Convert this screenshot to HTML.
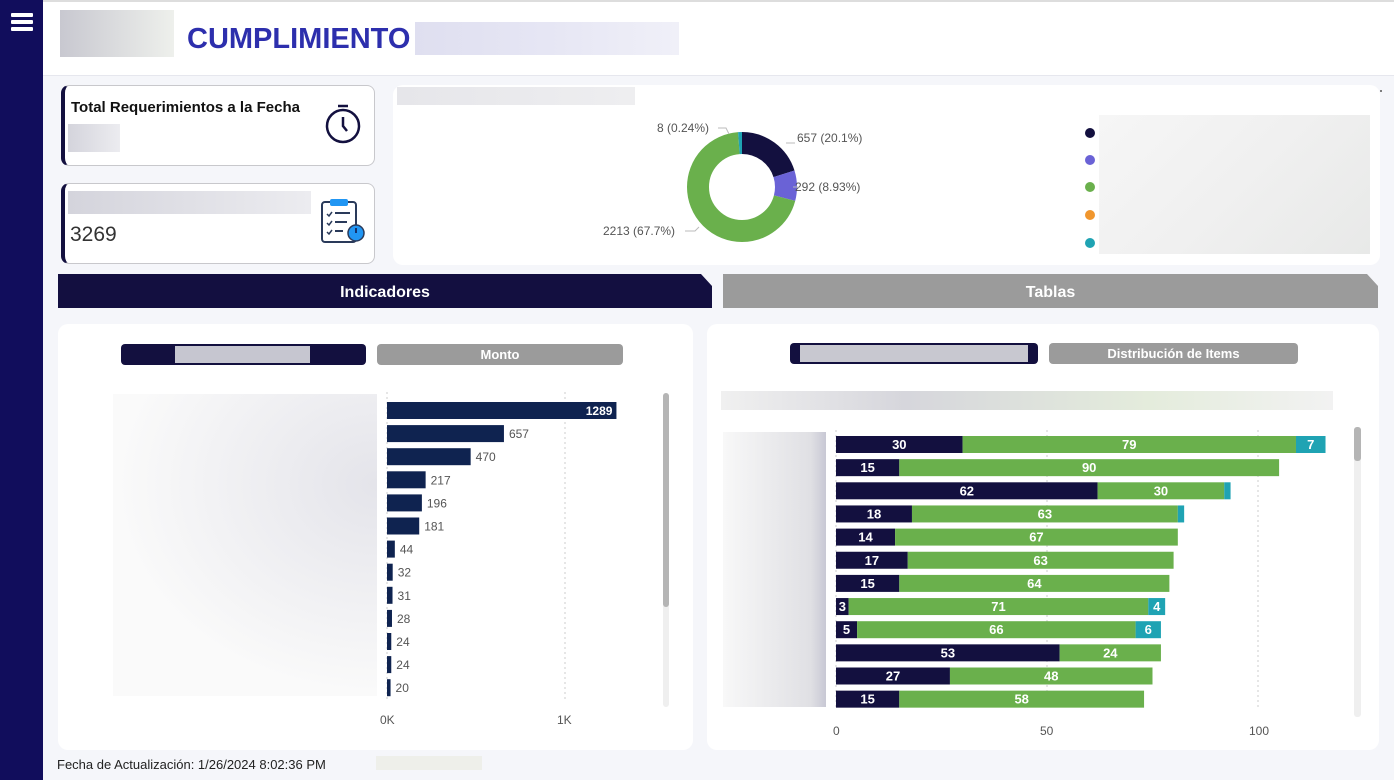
<!DOCTYPE html>
<html><head><meta charset="utf-8"><style>
*{margin:0;padding:0;box-sizing:border-box}
body{width:1394px;height:780px;overflow:hidden;background:#f5f6fa;font-family:"Liberation Sans",sans-serif;position:relative}
.a{position:absolute}
.side{left:0;top:0;width:43px;height:780px;background:#110d5c}
.hb{left:11px;width:22px;height:4px;background:#fff;border-radius:1px}
.hdr{left:43px;top:0;width:1351px;height:76px;background:#fff;border-bottom:1px solid #e6e7ee;border-top:2px solid #ddd}
.blur{background:linear-gradient(90deg,#d4d4dc,#ececf0)}
.card{background:#fff;border:1px solid #c8c8cc;border-left:4px solid #13103f;border-radius:8px}
.panel{background:#fff;border-radius:10px}
.btn{border-radius:4px;color:#fff;font-weight:bold;font-size:13px;text-align:center;line-height:21px}
</style></head><body>
<div class="a side"></div>
<div class="a hb" style="top:13px"></div><div class="a hb" style="top:20px"></div><div class="a hb" style="top:27px"></div>
<div class="a hdr"></div>
<div class="a blur" style="left:60px;top:10px;width:114px;height:47px;background:linear-gradient(90deg,#c8c8d0,#eef0ec)"></div>
<div class="a" style="left:187px;top:23px;font-size:29px;font-weight:bold;color:#2d2fad">CUMPLIMIENTO</div>
<div class="a" style="left:415px;top:22px;width:264px;height:33px;background:linear-gradient(90deg,#dfdff0,#e6e6f4,#f0f0f8)"></div>

<div class="a card" style="left:61px;top:85px;width:314px;height:81px"></div>
<div class="a" style="left:71px;top:99px;font-size:15px;font-weight:bold;color:#111">Total Requerimientos a la Fecha</div>
<div class="a blur" style="left:68px;top:124px;width:52px;height:28px"></div>
<div class="a card" style="left:61px;top:183px;width:314px;height:81px"></div>
<div class="a blur" style="left:68px;top:191px;width:243px;height:23px"></div>
<div class="a" style="left:70px;top:223px;font-size:21px;color:#333">3269</div>

<div class="a panel" style="left:393px;top:85px;width:987px;height:180px"></div>
<div class="a blur" style="left:397px;top:87px;width:238px;height:18px;background:linear-gradient(90deg,#e6e6ea,#eeeef0)"></div>
<div class="a" style="left:1099px;top:115px;width:271px;height:139px;background:linear-gradient(135deg,#f6f6f6,#f0f0f0,#e8e9e8)"></div>

<div class="a" style="left:58px;top:274px;width:654px;height:34px;background:#130f40;clip-path:polygon(0 0,643px 0,654px 12px,654px 100%,0 100%);color:#fff;font-weight:bold;font-size:16px;text-align:center;line-height:38px">Indicadores</div>
<div class="a" style="left:723px;top:274px;width:655px;height:34px;background:#9b9b9b;clip-path:polygon(0 0,644px 0,655px 12px,655px 100%,0 100%);color:#fff;font-weight:bold;font-size:16px;text-align:center;line-height:38px">Tablas</div>

<div class="a panel" style="left:58px;top:324px;width:635px;height:426px"></div>
<div class="a panel" style="left:707px;top:324px;width:672px;height:426px"></div>
<div class="a btn" style="left:121px;top:344px;width:245px;height:21px;background:#13103f"></div>
<div class="a" style="left:175px;top:346px;width:135px;height:17px;background:#c6c6d0"></div>
<div class="a btn" style="left:377px;top:344px;width:246px;height:21px;background:#9b9b9b">Monto</div>
<div class="a btn" style="left:790px;top:343px;width:248px;height:21px;background:#13103f"></div>
<div class="a" style="left:800px;top:345px;width:228px;height:17px;background:#c8c8d0"></div>
<div class="a btn" style="left:1049px;top:343px;width:249px;height:21px;background:#9b9b9b">Distribución de Items</div>
<div class="a" style="left:721px;top:391px;width:612px;height:19px;background:linear-gradient(90deg,#f0f0f0,#d6d6dc 30%,#e4ecdc 70%,#f2f2f2)"></div>
<div class="a" style="left:113px;top:394px;width:264px;height:302px;background:radial-gradient(ellipse at 100% 30%,#e4e4ea,#fafafa 70%)"></div>
<div class="a" style="left:723px;top:432px;width:103px;height:275px;background:linear-gradient(90deg,#f8f8f8,#e0e0e4 85%,#c8c8d4)"></div>
<div class="a" style="left:376px;top:756px;width:106px;height:14px;background:#eeefea"></div>
<div class="a" style="left:57px;top:757px;font-size:13px;color:#222">Fecha de Actualización: 1/26/2024 8:02:36 PM</div>

<svg class="a" style="left:0;top:0" width="1394" height="780" font-family="Liberation Sans, sans-serif">
<g stroke="#13103f" stroke-width="2.5" fill="none"><circle cx="343" cy="126" r="16"/><path d="M343 117v9l4 5"/><path d="M338 106h10"/></g>
<g><rect x="322" y="202" width="34" height="40" rx="3" fill="#fff" stroke="#2a3a5a" stroke-width="2"/><rect x="330" y="199" width="18" height="7" rx="2" fill="#2196f3"/>
<path d="M327 214l2 2 3-4M327 223l2 2 3-4M327 232l2 2 3-4" stroke="#2a3a5a" stroke-width="1.5" fill="none"/>
<path d="M335 213h15M335 222h12M335 231h8" stroke="#2a3a5a" stroke-width="2"/><circle cx="356" cy="233" r="8" fill="#2196f3" stroke="#2a3a5a" stroke-width="1.5"/><path d="M356 228v5" stroke="#13103f" stroke-width="1.5"/></g>
<g transform="rotate(-90 742 187)" fill="none" stroke-width="22">
<circle cx="742" cy="187" r="44" stroke="#13103f" stroke-dasharray="55.6 300"/>
<circle cx="742" cy="187" r="44" stroke="#6a62d6" stroke-dasharray="0 55.6 24.7 300"/>
<circle cx="742" cy="187" r="44" stroke="#6ab04c" stroke-dasharray="0 80.3 192.5 300"/>
<circle cx="742" cy="187" r="44" stroke="#1fa3b3" stroke-dasharray="0 272.8 3.7 300"/>
</g>
<g font-size="12" fill="#555">
<text x="797" y="142">657 (20.1%)</text><text x="795" y="191">292 (8.93%)</text>
<text x="657" y="132">8 (0.24%)</text><text x="603" y="235">2213 (67.7%)</text></g>
<g stroke="#bbb" fill="none"><path d="M786 143h9M799 187h-6M718 128h8l3 6M685 231h10l4-4"/></g>
<g><circle cx="1090" cy="133" r="5" fill="#13103f"/><circle cx="1090" cy="160" r="5" fill="#6a62d6"/><circle cx="1090" cy="187" r="5" fill="#6ab04c"/><circle cx="1090" cy="215" r="5" fill="#f0962e"/><circle cx="1090" cy="243" r="5" fill="#1fa3b3"/></g>
<circle cx="1381" cy="91" r="1" fill="#555"/>
<g stroke="#ccc" stroke-dasharray="2 3"><path d="M387 392v310M565 392v310"/></g>
<g fill="#0f2350" id="lb"></g>
<g font-size="12" fill="#555">
<text x="380" y="724">0K</text><text x="557" y="724">1K</text></g>
<rect x="663" y="393" width="6" height="314" rx="3" fill="#efefef"/><rect x="663" y="393" width="6" height="214" rx="3" fill="#b5b5b5"/>
<g stroke="#ccc" stroke-dasharray="2 3"><path d="M836 430v280M1047 430v280M1258 430v280"/></g>
<g font-size="12" fill="#555"><text x="833" y="735">0</text><text x="1040" y="735">50</text><text x="1249" y="735">100</text></g>
<rect x="1354" y="427" width="7" height="290" rx="3" fill="#efefef"/><rect x="1354" y="427" width="7" height="34" rx="3" fill="#b5b5b5"/>
<g id="rb"></g>
</svg>
<script>
var ns="http://www.w3.org/2000/svg";
function el(p,t,a,tx){var e=document.createElementNS(ns,t);for(var k in a)e.setAttribute(k,a[k]);if(tx!=null)e.textContent=tx;p.appendChild(e);return e}
var lb=document.getElementById("lb");
var lv=[1289,657,470,217,196,181,44,32,31,28,24,24,20];
lv.forEach(function(v,i){var y=402+i*23.1,w=v*0.178;el(lb,"rect",{x:387,y:y,width:w,height:17});
if(i==0)el(lb,"text",{x:387+w-4,y:y+13,"text-anchor":"end","font-size":12,fill:"#fff","font-weight":"bold"},v);
else el(lb,"text",{x:387+w+5,y:y+13,"font-size":12,fill:"#555"},v)});
var rb=document.getElementById("rb");
var rd=[[30,79,7],[15,90,0],[62,30,1.5],[18,63,1.5],[14,67,0],[17,63,0],[15,64,0],[3,71,4],[5,66,6],[53,24,0],[27,48,0],[15,58,0]];
var cols=["#13103f","#6ab04c","#1fa3b3"];
rd.forEach(function(r,i){var y=436+i*23.15,x=836;r.forEach(function(v,j){if(!v)return;var w=v*4.22;el(rb,"rect",{x:x,y:y,width:w,height:17,fill:cols[j]});
if(v>=3)el(rb,"text",{x:x+w/2,y:y+13,"text-anchor":"middle","font-size":13,fill:"#fff","font-weight":"bold"},v);x+=w})});
</script>
</body></html>
